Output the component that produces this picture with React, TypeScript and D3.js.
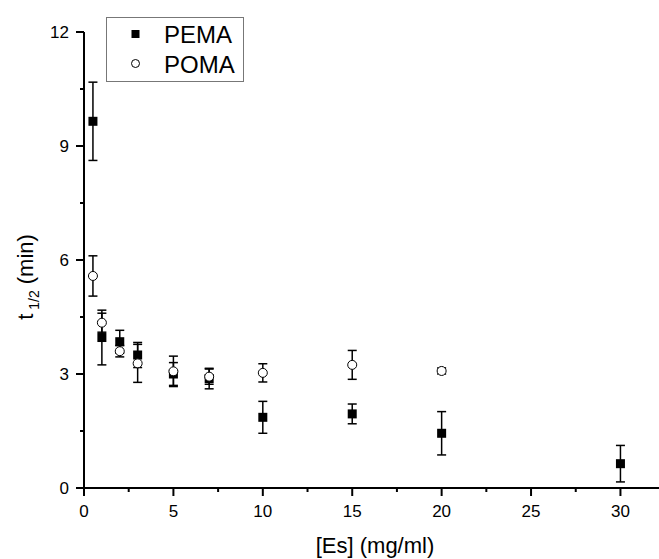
import React, { useEffect, useRef } from "react";
import * as d3 from "d3";

// [Es] (mg/ml)
const pemaX = [0.5, 1, 2, 3, 5, 7, 10, 15, 20, 30];
const pemaY = [9.65, 3.96, 3.85, 3.5, 3.0, 2.88, 1.86, 1.95, 1.44, 0.64];
const pemaErr = [1.03, 0.72, 0.3, 0.33, 0.3, 0.27, 0.42, 0.26, 0.57, 0.48];

const pomaX = [0.5, 1, 2, 3, 5, 7, 10, 15, 20];
const pomaY = [5.58, 4.35, 3.6, 3.28, 3.07, 2.93, 3.03, 3.24, 3.08];
const pomaErr = [0.53, 0.25, 0.15, 0.5, 0.4, 0.2, 0.24, 0.38, 0.08];

const xTicks = [0, 5, 10, 15, 20, 25, 30];
const yTicks = [0, 3, 6, 9, 12];

const App = () => {
  const svgRef = useRef<SVGSVGElement>(null);

  useEffect(() => {
    const svg = d3.select(svgRef.current);
    svg.selectAll("*").remove();

    const width = 659;
    const height = 559;
    const font = "Liberation Sans, Arial, sans-serif";

    const x = d3.scaleLinear().domain([0, 32.1]).range([84, 658]);
    const y = d3.scaleLinear().domain([0, 12]).range([488, 32]);

    // axes
    const xAxis = svg.append("g").attr("transform", `translate(0,${y(0)})`);
    xAxis.append("line").attr("x1", x(0)).attr("x2", 659).attr("stroke", "#000").attr("stroke-width", 2);
    d3.range(0, 32.1, 2.5).forEach(v => {
      const major = xTicks.includes(v);
      xAxis.append("line")
        .attr("x1", x(v)).attr("x2", x(v))
        .attr("y1", 0).attr("y2", major ? 8 : 4)
        .attr("stroke", "#000").attr("stroke-width", 2);
    });
    xTicks.forEach(v => {
      xAxis.append("text")
        .attr("x", x(v)).attr("y", 29)
        .attr("text-anchor", "middle")
        .attr("font-family", font).attr("font-size", 17)
        .text(v);
    });

    const yAxis = svg.append("g").attr("transform", `translate(${x(0)},0)`);
    yAxis.append("line").attr("y1", y(12)).attr("y2", y(0)).attr("stroke", "#000").attr("stroke-width", 2);
    d3.range(0, 12.1, 1.5).forEach(v => {
      const major = yTicks.includes(v);
      yAxis.append("line")
        .attr("x1", 0).attr("x2", major ? -8 : -4)
        .attr("y1", y(v)).attr("y2", y(v))
        .attr("stroke", "#000").attr("stroke-width", 2);
    });
    yTicks.forEach(v => {
      yAxis.append("text")
        .attr("x", -15).attr("y", y(v) + 6)
        .attr("text-anchor", "end")
        .attr("font-family", font).attr("font-size", 17)
        .text(v);
    });

    // axis titles
    svg.append("text")
      .attr("x", 375).attr("y", 553)
      .attr("text-anchor", "middle")
      .attr("font-family", font).attr("font-size", 22)
      .text("[Es] (mg/ml)");

    const yt = svg.append("text")
      .attr("transform", "translate(33,277) rotate(-90)")
      .attr("text-anchor", "middle")
      .attr("font-family", font).attr("font-size", 22);
    yt.append("tspan").text("t");
    yt.append("tspan").attr("font-size", 14).attr("dx", 4).attr("dy", 6).text("1/2");
    yt.append("tspan").attr("dx", 6).attr("dy", -6).text("(min)");

    // error bars
    const drawErr = (xs: number[], ys: number[], es: number[]) => {
      xs.forEach((xv, i) => {
        const cx = x(xv);
        const g = svg.append("g").attr("stroke", "#000").attr("stroke-width", 1.5);
        g.append("line").attr("x1", cx).attr("x2", cx).attr("y1", y(ys[i] + es[i])).attr("y2", y(ys[i] - es[i]));
        [ys[i] + es[i], ys[i] - es[i]].forEach(v => {
          g.append("line").attr("x1", cx - 4.5).attr("x2", cx + 4.5).attr("y1", y(v)).attr("y2", y(v));
        });
      });
    };
    drawErr(pemaX, pemaY, pemaErr);
    drawErr(pomaX, pomaY, pomaErr);

    // PEMA squares
    svg.append("g").selectAll("rect")
      .data(pemaX)
      .enter()
      .append("rect")
      .attr("x", (d: number) => x(d) - 4.5)
      .attr("y", (_d: number, i: number) => y(pemaY[i]) - 4.5)
      .attr("width", 9).attr("height", 9)
      .attr("fill", "#000");

    // POMA circles
    svg.append("g").selectAll("circle")
      .data(pomaX)
      .enter()
      .append("circle")
      .attr("cx", (d: number) => x(d))
      .attr("cy", (_d: number, i: number) => y(pomaY[i]))
      .attr("r", 4.5)
      .attr("fill", "#fff")
      .attr("stroke", "#000")
      .attr("stroke-width", 1);

    // legend
    const lg = svg.append("g");
    lg.append("rect")
      .attr("x", 106.5).attr("y", 17.5).attr("width", 137).attr("height", 64)
      .attr("fill", "#fff").attr("stroke", "#777").attr("stroke-width", 1);
    lg.append("rect").attr("x", 131.5).attr("y", 30).attr("width", 8).attr("height", 8).attr("fill", "#000");
    lg.append("circle").attr("cx", 135.5).attr("cy", 63.5).attr("r", 4).attr("fill", "#fff").attr("stroke", "#000");
    lg.append("text").attr("x", 164).attr("y", 43)
      .attr("font-family", font).attr("font-size", 24).text("PEMA");
    lg.append("text").attr("x", 164).attr("y", 73)
      .attr("font-family", font).attr("font-size", 24).text("POMA");

    svg.attr("width", width).attr("height", height);
  }, []);

  return (
    <svg ref={svgRef} width={659} height={559}
      style={{ position: "absolute", left: 0, top: 0, background: "#fff" }} />
  );
};

export default App;
